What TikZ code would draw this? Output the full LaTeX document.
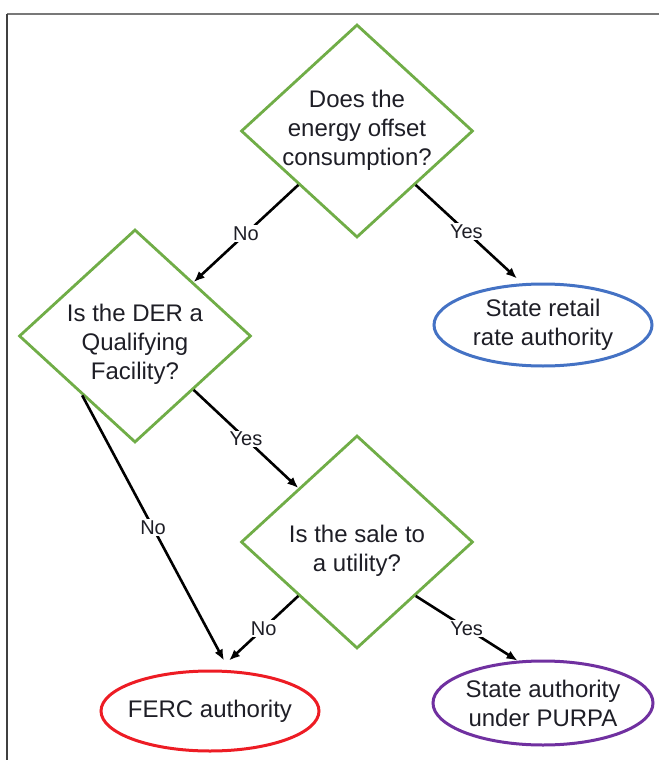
\documentclass[tikz,border=0pt]{standalone}
\usepackage{fontspec}
\setmainfont{Liberation Sans}
\usetikzlibrary{shapes.geometric,arrows.meta,calc}
\definecolor{dgreen}{RGB}{112,173,71}
\definecolor{dblue}{RGB}{68,114,196}
\definecolor{dred}{RGB}{237,28,36}
\definecolor{dpurple}{RGB}{112,48,160}
\definecolor{txt}{RGB}{30,30,38}
\definecolor{framec}{RGB}{120,120,120}
\begin{document}
\begin{tikzpicture}[x=1pt,y=-1pt,
  dec/.style={diamond, draw=dgreen, line width=2.8pt, minimum width=232pt, minimum height=213pt, inner sep=0pt},
  qtext/.style={align=center, text=txt, font=\fontsize{24}{29}\selectfont, inner sep=0pt},
  endbox/.style={ellipse, line width=3pt, minimum width=218pt, minimum height=82pt, inner sep=0pt, align=center, text=txt, font=\fontsize{24}{29}\selectfont},
  arr/.style={-{Latex[length=11pt,width=9pt]}, line width=2.6pt, black},
  lbl/.style={fill=white, inner sep=1.5pt, text=txt, font=\fontsize{20}{23}\selectfont}]
\useasboundingbox (0,0) rectangle (659,760);
\draw[framec, line width=2.4pt] (7,14) -- (659,14);
\draw[black!75, line width=1.4pt] (7,760) -- (7,14);

% decisions
\node[dec] (d1) at (357,131) {};
\node[qtext] (t1) at (357,130) {Does the\\energy offset\\consumption?};
\node[dec] (d2) at (135,336) {};
\node[qtext] (t2) at (135,344) {Is the DER a\\Qualifying\\Facility?};
\node[dec] (d3) at (357,542) {};
\node[qtext] (t3) at (357,551) {Is the sale to\\a utility?};

% outcomes
\node[endbox, draw=dblue] (retail) at (543,325) {State retail\\rate authority};
\node[endbox, draw=dred, inner xsep=-6pt, minimum height=80pt] (ferc) at (210,711) {FERC authority};
\node[endbox, draw=dpurple, minimum width=220pt, minimum height=84pt] (purpa) at (543,703) {State authority\\under PURPA};

% arrow end points
\coordinate (retailIn) at ([xshift=-26pt,yshift=4pt]retail.north);
\coordinate (fercA) at ([xshift=14pt,yshift=9pt]ferc.north);
\coordinate (fercB) at ([xshift=19pt,yshift=9pt]ferc.north);
\coordinate (d2out) at ($(d2.west)!0.55!(d2.south)$);

% connectors
\draw[arr] (d1.south west) -- node[lbl] {No} (d2.north east);
\draw[arr] (d1.south east) -- node[lbl] {Yes} (retailIn);
\draw[arr] (d2out) -- node[lbl] {No} (fercA);
\draw[arr] (d2.south east) -- node[lbl] {Yes} (d3.north west);
\draw[arr] (d3.south west) -- node[lbl] {No} (fercB);
\draw[arr] (d3.south east) -- node[lbl] {Yes} (purpa.121);
\end{tikzpicture}
\end{document}
